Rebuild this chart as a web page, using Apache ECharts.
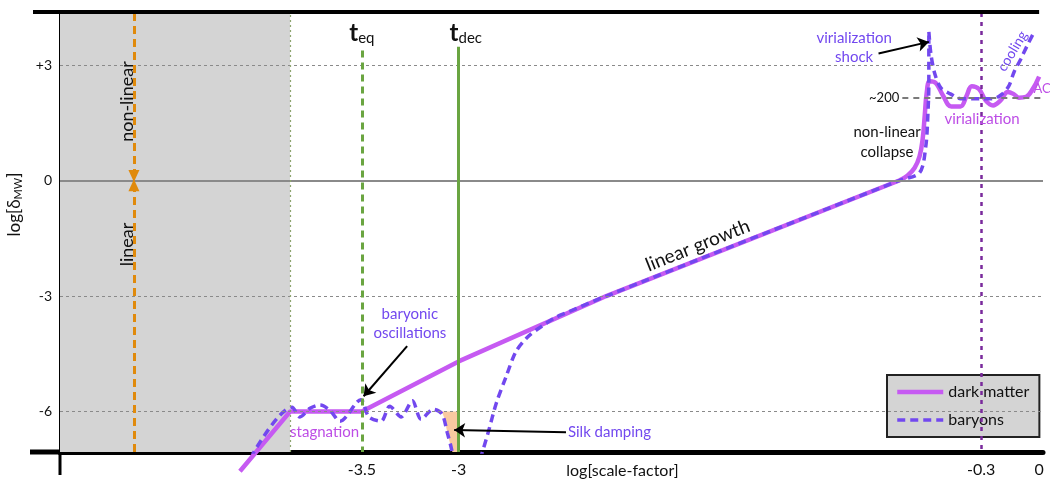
<!DOCTYPE html>
<html>
<head>
<meta charset="utf-8">
<script src="https://cdn.jsdelivr.net/npm/echarts@6/dist/echarts.min.js"></script>
<style>
  html, body { margin: 0; padding: 0; background: #fff; }
  #chart { width: 1050px; height: 486px; }
</style>
</head>
<body>
<div id="chart"></div>
<script>
// Axis ranges (log scale-factor, log overdensity)
const X_MIN = -5.06, X_MAX = 0.02;
const Y_MIN = -7.05, Y_MAX = 4.35;

// Tick labels
const xTicks = [-3.5, -3, -0.3, 0];
const yTicks = [-6, -3, 0, 3];

// Reference epochs and levels
const T_EQ = -3.5;
const T_DEC = -3;
const A_LATE = -0.3;
const LINEAR_REGIME_END = -3.871;   // right edge of the shaded early regime
const REGIME_MARKER_X = -4.678;     // linear / non-linear divider
const VIRIAL_LEVEL = 2.15;          // ~200 overdensity

// Dark matter: growth until collapse
const darkMatterGrowth = [
  [-4.130, -7.55], [-3.871, -6], [-3.5, -6], [-3, -4.697], [-2.237, -3], [-0.723, 0]
];
// Dark matter: collapse and virialized oscillations
const darkMatterVirial = [
  [-0.723, 0], [-0.681, 0.125], [-0.644, 0.325], [-0.618, 0.625], [-0.602, 1.075],
  [-0.591, 1.7], [-0.581, 2.275], [-0.565, 2.575], [-0.533, 2.525], [-0.496, 2.2],
  [-0.454, 1.925], [-0.406, 1.925], [-0.375, 2.2], [-0.348, 2.45], [-0.311, 2.375],
  [-0.276, 2.075], [-0.238, 1.95], [-0.2, 2.075], [-0.162, 2.3], [-0.133, 2.25],
  [-0.105, 2.15], [-0.067, 2.175], [-0.033, 2.375], [0, 2.7]
];
// Baryons: oscillations, Silk damping, catch-up, shock and cooling
const baryons = [
  [-4.11, -7.5], [-3.861, -5.89], [-3.820, -6.14], [-3.768, -5.915], [-3.716, -5.83],
  [-3.665, -5.97], [-3.613, -6.25], [-3.505, -5.69], [-3.464, -6.14], [-3.401, -6.25],
  [-3.356, -5.86], [-3.297, -6.14], [-3.239, -5.72], [-3.194, -6.2], [-3.131, -5.94],
  [-3.086, -6.06], [-3.059, -6.54], [-3.036, -6.99], [-3.03, -7.25],
  null,
  [-2.889, -7.25], [-2.847, -6.54], [-2.805, -5.776], [-2.757, -5.125], [-2.704, -4.445],
  [-2.646, -4.076], [-2.572, -3.79], [-2.503, -3.567], [-2.451, -3.45], [-2.237, -3],
  [-0.723, 0], [-0.618, 0.2], [-0.586, 0.875], [-0.575, 1.7], [-0.570, 2.525],
  [-0.570, 3.875], [-0.559, 3.275], [-0.538, 2.75], [-0.507, 2.4], [-0.459, 2.25],
  [-0.406, 2.125], [-0.3, 2.125], [-0.238, 2.125], [-0.190, 2.25], [-0.157, 2.45],
  [-0.129, 2.825], [-0.095, 3.15], [-0.062, 3.5], [-0.024, 3.875]
];
// Region damped by photon diffusion before decoupling
const silkDamping = [
  [-3.086, -6], [-3, -6], [-3, -7.05], [-3.032, -7.05], [-3.036, -6.99],
  [-3.059, -6.54], [-3.072, -6.2]
];

const FONT = 'Lato, "Open Sans", sans-serif';
const DM_COLOR = '#c65af2';
const DM_TEXT = '#bd4de6';
const BAR_COLOR = '#7248ef';
const GREEN = '#6aa541';
const ORANGE = '#e08a0c';
const PURPLE_DARK = '#7a2a9c';
const INK = '#111';

// Text annotations placed in data coordinates
const notes = [
  { x: -4.712, y: 2.05, text: 'non-linear', rot: Math.PI / 2, size: 18, color: INK },
  { x: -4.712, y: -1.66, text: 'linear', rot: Math.PI / 2, size: 18, color: INK },
  { x: T_EQ, y: 3.825, text: '{t|t}{s|eq}', color: INK, rich: true },
  { x: -2.963, y: 3.825, text: '{t|t}{s|dec}', color: INK, rich: true },
  { x: -3.252, y: -3.708, text: 'baryonic\noscillations', color: BAR_COLOR, size: 15, lh: 19 },
  { x: LINEAR_REGIME_END, y: -6.538, text: 'stagnation', align: 'left', color: DM_TEXT, size: 15 },
  { x: -2.435, y: -6.538, text: 'Silk damping', align: 'left', color: BAR_COLOR, size: 15 },
  { x: -1.764, y: -1.688, text: 'linear growth', rot: 0.38, size: 19, color: INK },
  { x: -0.786, y: 1.0, text: 'non-linear\ncollapse', size: 15, lh: 20, color: INK },
  { x: -0.956, y: 3.4625, text: 'virialization\nshock', color: BAR_COLOR, size: 15, lh: 19 },
  { x: -0.295, y: 1.6, text: 'virialization', color: DM_TEXT, size: 15 },
  { x: -0.138, y: 3.36, text: 'cooling', rot: 1.03, color: BAR_COLOR, size: 14 },
  { x: -0.029, y: 2.375, text: 'AC', align: 'left', color: DM_TEXT, size: 13 },
  { x: -0.723, y: VIRIAL_LEVEL, text: '~200', align: 'right', color: INK, size: 13 }
];

// Pointer arrows: [from, to]
const arrows = [
  [[-3.266, -4.303], [-3.491, -5.603]],
  [[-2.445, -6.538], [-3.023, -6.48]],
  [[-0.83, 3.3], [-0.570, 3.6]]
];

function seg(p0, p1, style, endSymbol, size) {
  return [
    { coord: p0, symbol: 'none', lineStyle: style },
    { coord: p1, symbol: endSymbol || 'none', symbolSize: size || 10, lineStyle: style }
  ];
}

const dotted = { color: '#8a8a8a', width: 1.2, type: [3, 3] };
const markerLines = [];
yTicks.forEach(v => {
  markerLines.push(seg([X_MIN, v], [X_MAX, v],
    v === 0 ? { color: '#8a8a8a', width: 2, type: 'solid' } : dotted));
});
markerLines.push(seg([-0.707, VIRIAL_LEVEL], [X_MAX, VIRIAL_LEVEL], { color: '#7a7a7a', width: 2, type: [6, 5] }));
markerLines.push(seg([LINEAR_REGIME_END, Y_MIN], [LINEAR_REGIME_END, Y_MAX], { color: '#8da56e', width: 1.2, type: [2, 3] }));
markerLines.push(seg([T_EQ, 3.375], [T_EQ, Y_MIN], { color: GREEN, width: 3, type: [7, 5] }));
markerLines.push(seg([T_DEC, 3.475], [T_DEC, Y_MIN], { color: GREEN, width: 3, type: 'solid' }));
markerLines.push(seg([A_LATE, Y_MAX], [A_LATE, Y_MIN], { color: PURPLE_DARK, width: 2.5, type: [4, 5] }));
markerLines.push(seg([REGIME_MARKER_X, Y_MAX], [REGIME_MARKER_X, 0.12], { color: ORANGE, width: 3, type: [8, 5] }, 'triangle', [11, 12]));
markerLines.push(seg([REGIME_MARKER_X, Y_MIN], [REGIME_MARKER_X, -0.12], { color: ORANGE, width: 3, type: [8, 5] }, 'triangle', [11, 12]));
arrows.forEach(a => markerLines.push(seg(a[0], a[1], { color: '#000', width: 2, type: 'solid' }, 'arrow', 11)));

const chart = echarts.init(document.getElementById('chart'));

chart.setOption({
  animation: false,
  textStyle: { fontFamily: FONT },
  grid: { left: 60, right: 7, top: 13, bottom: 34, containLabel: false, outerBoundsMode: 'none' },
  legend: {
    data: [
      { name: 'dark matter', lineStyle: { width: 4.5 } },
      { name: 'baryons', lineStyle: { width: 3.5, type: [8, 5] } }
    ],
    orient: 'vertical',
    left: 887, top: 375,
    backgroundColor: '#d4d4d4',
    borderColor: '#222', borderWidth: 2, borderRadius: 0,
    padding: [9, 10, 9, 8],
    itemGap: 12, itemWidth: 46, itemHeight: 14,
    itemStyle: { opacity: 0 },
    textStyle: { fontSize: 16, color: INK, fontFamily: FONT }
  },
  xAxis: {
    type: 'value', min: X_MIN, max: X_MAX,
    name: 'log[scale-factor]', nameLocation: 'middle', nameGap: 11, nameMoveOverlap: false,
    nameTextStyle: { fontSize: 16, color: INK, fontFamily: FONT, padding: [0, 0, 0, 142] },
    axisLine: { show: true, onZero: false, lineStyle: { color: '#000', width: 5 } },
    axisTick: { show: false },
    splitLine: { show: false },
    axisLabel: {
      customValues: xTicks, color: INK, fontSize: 16, margin: 10,
      formatter: v => String(v)
    }
  },
  yAxis: {
    type: 'value', min: Y_MIN, max: Y_MAX,
    name: 'log[δ{s|MW}]', nameLocation: 'middle', nameGap: 36, nameMoveOverlap: false,
    nameTextStyle: {
      fontSize: 17, color: INK, fontFamily: FONT, padding: [0, 0, 0, 56],
      rich: { s: { fontSize: 11, color: INK, fontFamily: FONT, padding: [8, 0, 0, 0] } }
    },
    axisLine: { show: true, onZero: false, lineStyle: { color: '#000', width: 3 } },
    axisTick: { show: false },
    splitLine: { show: false },
    axisLabel: {
      customValues: yTicks, color: INK, fontSize: 14, margin: 8,
      formatter: v => (v > 0 ? '+' + v : String(v))
    }
  },
  series: [
    {
      type: 'line', data: [], silent: true, clip: false, z: 1,
      markArea: {
        silent: true,
        itemStyle: { color: '#d4d4d4' },
        data: [[{ coord: [X_MIN, Y_MIN] }, { coord: [LINEAR_REGIME_END, Y_MAX] }]]
      },
      markLine: {
        silent: true, animation: false,
        label: { show: false },
        emphasis: { disabled: true },
        data: markerLines
      }
    },
    {
      type: 'custom', silent: true, z: 2,
      data: [[0, 0]],
      renderItem: function (params, api) {
        return {
          type: 'polygon',
          shape: { points: silkDamping.map(p => api.coord(p)) },
          style: { fill: '#f9c9a0' }
        };
      }
    },
    {
      name: 'dark matter', type: 'line', data: darkMatterGrowth,
      showSymbol: false, symbol: 'none', clip: false, z: 3,
      lineStyle: { color: DM_COLOR, width: 4.5 }, itemStyle: { color: DM_COLOR }
    },
    {
      name: 'dark matter', type: 'line', data: darkMatterVirial, smooth: 0.4,
      showSymbol: false, symbol: 'none', clip: false, z: 3,
      lineStyle: { color: DM_COLOR, width: 4.5 }, itemStyle: { color: DM_COLOR }
    },
    {
      name: 'baryons', type: 'line', data: baryons, smooth: 0.3,
      showSymbol: false, symbol: 'none', clip: true, z: 4, connectNulls: false,
      lineStyle: { color: BAR_COLOR, width: 3.5, type: [8, 5] }, itemStyle: { color: BAR_COLOR }
    },
    {
      type: 'custom', silent: true, clip: false, z: 6,
      data: notes.map((n, i) => [n.x, n.y, i]),
      encode: { x: 0, y: 1 },
      renderItem: function (params, api) {
        const n = notes[params.dataIndex];
        const p = api.coord([n.x, n.y]);
        const style = {
          text: n.text, fill: n.color, fontFamily: FONT, fontSize: n.size || 15,
          align: n.align || 'center', verticalAlign: 'middle', lineHeight: n.lh
        };
        if (n.rich) {
          style.rich = {
            t: { fontSize: 24, fill: n.color, fontFamily: FONT, fontWeight: 'bold' },
            s: { fontSize: 15, fill: n.color, fontFamily: FONT, padding: [10, 0, 0, 0] }
          };
        }
        return { type: 'text', x: p[0], y: p[1], rotation: n.rot || 0, style: style };
      }
    }
  ]
});

// Frame: axis stubs beyond the origin and the top rule
const bl = chart.convertToPixel({ gridIndex: 0 }, [X_MIN, Y_MIN]);
const tl = chart.convertToPixel({ gridIndex: 0 }, [X_MIN, Y_MAX]);
const tr = chart.convertToPixel({ gridIndex: 0 }, [0, Y_MAX]);
chart.setOption({
  graphic: [
    { type: 'line', silent: true, z: 10, shape: { x1: bl[0] - 30, y1: bl[1], x2: bl[0], y2: bl[1] }, style: { stroke: '#000', lineWidth: 5 } },
    { type: 'line', silent: true, z: 10, shape: { x1: bl[0], y1: bl[1], x2: bl[0], y2: bl[1] + 23 }, style: { stroke: '#000', lineWidth: 3 } },
    { type: 'line', silent: true, z: 10, shape: { x1: tl[0] - 27, y1: tl[1] - 1, x2: tr[0], y2: tr[1] - 1 }, style: { stroke: '#000', lineWidth: 4 } }
  ]
});
</script>
</body>
</html>
